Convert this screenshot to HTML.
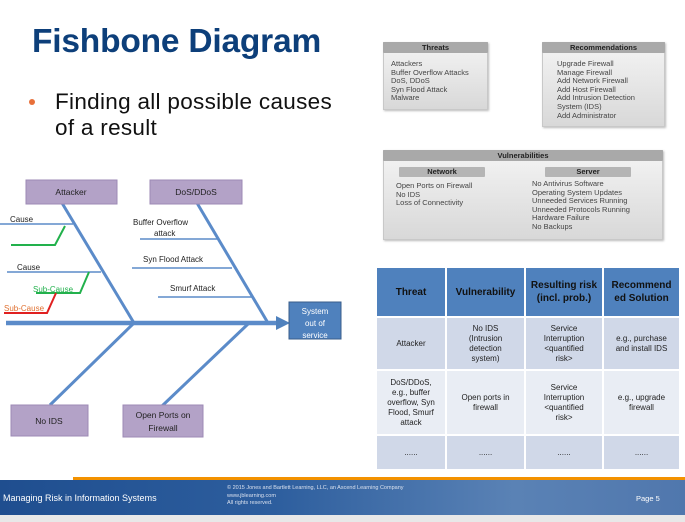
<!DOCTYPE html>
<html><head><meta charset="utf-8"><style>
*{margin:0;padding:0;box-sizing:border-box}
body{width:685px;height:522px;position:relative;background:#fff;font-family:"Liberation Sans",sans-serif;overflow:hidden}
.a{position:absolute}
.gb{position:absolute;background:linear-gradient(#f4f4f4,#d8d8d8);border:1px solid #c8c8c8;box-shadow:1px 1px 2px #bbb;font-size:7.5px;color:#444;line-height:8.6px}
.gh{position:absolute;background:#a9a9a9;color:#222;font-weight:bold;font-size:7.5px;text-align:center;line-height:11px;border-radius:1px}
table{position:absolute;left:375px;top:266px;border-collapse:separate;border-spacing:2px;font-family:"Liberation Sans",sans-serif;table-layout:fixed}
td{font-size:8px;text-align:center;color:#222;line-height:10px;padding:0}
th{background:#4f81bd;color:#111;font-size:10px;font-weight:bold;line-height:13px;padding:0 3px}
</style></head><body>
<div class="a" style="left:32px;top:23px;font-size:33.5px;font-weight:bold;color:#0d3f7a;letter-spacing:-0.2px">Fishbone Diagram</div>
<div class="a" style="left:29px;top:99px;width:6px;height:6px;border-radius:3px;background:#e8703a"></div>
<div class="a" style="left:55px;top:89px;font-size:22.5px;line-height:26px;color:#111;letter-spacing:0.3px">Finding all possible causes<br>of a result</div>

<div class="gb" style="left:383px;top:42px;width:105px;height:68px;padding:17px 0 0 7px">Attackers<br>Buffer Overflow Attacks<br>DoS, DDoS<br>Syn Flood Attack<br>Malware</div>
<div class="gh" style="left:383px;top:42px;width:105px">Threats</div>
<div class="gb" style="left:542px;top:42px;width:123px;height:85px;padding:17px 0 0 14px">Upgrade Firewall<br>Manage Firewall<br>Add Network Firewall<br>Add Host Firewall<br>Add Intrusion Detection<br>System (IDS)<br>Add Administrator</div>
<div class="gh" style="left:542px;top:42px;width:123px">Recommendations</div>
<div class="gb" style="left:383px;top:150px;width:280px;height:90px"></div>
<div class="gh" style="left:383px;top:150px;width:280px">Vulnerabilities</div>
<div class="gh" style="left:399px;top:167px;width:86px;height:10px;line-height:10px;background:#b5b5b5">Network</div>
<div class="gh" style="left:545px;top:167px;width:86px;height:10px;line-height:10px;background:#b5b5b5">Server</div>
<div class="a" style="left:396px;top:182px;font-size:7.5px;line-height:8.6px;color:#444">Open Ports on Firewall<br>No IDS<br>Loss of Connectivity</div>
<div class="a" style="left:532px;top:180px;font-size:7.5px;line-height:8.6px;color:#444">No Antivirus Software<br>Operating System Updates<br>Unneeded Services Running<br>Unneeded Protocols Running<br>Hardware Failure<br>No Backups</div>

<svg class="a" style="left:0;top:0" width="370" height="450">
<g stroke="#5b8bc9" stroke-width="1.5" fill="none">
<line x1="62" y1="203" x2="134" y2="323" stroke-width="3"/>
<line x1="197" y1="203" x2="268" y2="323" stroke-width="3"/>
<line x1="134" y1="323" x2="50" y2="405" stroke-width="3"/>
<line x1="248" y1="324" x2="162" y2="406" stroke-width="3"/>
<line x1="6" y1="323" x2="280" y2="323" stroke-width="4.5"/>
<line x1="0" y1="224" x2="73" y2="224"/>
<line x1="7" y1="272" x2="101" y2="272"/>
<line x1="140" y1="239" x2="217" y2="239"/>
<line x1="132" y1="268" x2="232" y2="268"/>
<line x1="158" y1="297" x2="252" y2="297"/>
</g>
<polygon points="276,316 290,323 276,330" fill="#4f81bd"/>
<g fill="none" stroke-width="2">
<polyline points="65,226 55,245 11,245" stroke="#22b14c"/>
<polyline points="89,272 80,293 36,293" stroke="#22b14c"/>
<polyline points="56,293 47,313 4,313" stroke="#e02020"/>
</g>
<g font-family="Liberation Sans,sans-serif" font-size="8" fill="#222">
<text x="10" y="222">Cause</text>
<text x="17" y="270">Cause</text>
<text x="33" y="292" fill="#22b14c">Sub-Cause</text>
<text x="4" y="311" fill="#e07030">Sub-Cause</text>
<text x="133" y="225">Buffer Overflow</text>
<text x="154" y="236">attack</text>
<text x="143" y="262">Syn Flood Attack</text>
<text x="170" y="291">Smurf Attack</text>
</g>
<g fill="#b3a2c7" stroke="#9c8ab5" stroke-width="1">
<rect x="26" y="180" width="91" height="24"/>
<rect x="150" y="180" width="92" height="24"/>
<rect x="11" y="405" width="77" height="31"/>
<rect x="123" y="405" width="80" height="32"/>
</g>
<rect x="289" y="302" width="52" height="37" fill="#4f81bd" stroke="#385d8a"/>
<g font-family="Liberation Sans,sans-serif" font-size="8.5" fill="#222" text-anchor="middle">
<text x="71" y="195">Attacker</text>
<text x="196" y="195">DoS/DDoS</text>
<text x="49" y="424">No IDS</text>
<text x="163" y="418">Open Ports on</text>
<text x="163" y="431">Firewall</text>
<text x="315" y="314" fill="#fff" font-size="8">System</text>
<text x="315" y="326" fill="#fff" font-size="8">out of</text>
<text x="315" y="338" fill="#fff" font-size="8">service</text>
</g>
</svg>

<table>
<tr style="height:48px"><th style="width:68px">Threat</th><th style="width:77px">Vulnerability</th><th style="width:76px">Resulting risk (incl. prob.)</th><th style="width:75px">Recommend ed Solution</th></tr>
<tr style="height:51px"><td style="background:#d0d8e8">Attacker</td><td style="background:#d0d8e8">No IDS<br>(Intrusion<br>detection<br>system)</td><td style="background:#d0d8e8">Service<br>Interruption<br>&lt;quantified<br>risk&gt;</td><td style="background:#d0d8e8">e.g., purchase<br>and install IDS</td></tr>
<tr style="height:63px"><td style="background:#e9edf4">DoS/DDoS,<br>e.g., buffer<br>overflow, Syn<br>Flood, Smurf<br>attack</td><td style="background:#e9edf4">Open ports in<br>firewall</td><td style="background:#e9edf4">Service<br>Interruption<br>&lt;quantified<br>risk&gt;</td><td style="background:#e9edf4">e.g., upgrade<br>firewall</td></tr>
<tr style="height:33px"><td style="background:#d0d8e8">......</td><td style="background:#d0d8e8">......</td><td style="background:#d0d8e8">......</td><td style="background:#d0d8e8">......</td></tr>
</table>

<div class="a" style="left:73px;top:477px;width:612px;height:4px;background:#f39200"></div>
<div class="a" style="left:0;top:480px;width:685px;height:35px;background:linear-gradient(90deg,#1f4e8f 0%,#2d5e9e 40%,#5a82b5 75%,#5077ad 100%)"></div>
<div class="a" style="left:0;top:515px;width:685px;height:7px;background:#e8e8e8"></div>
<div class="a" style="left:3px;top:493px;font-size:9px;color:#fff">Managing Risk in Information Systems</div>
<div class="a" style="left:227px;top:485px;font-size:5.5px;line-height:7.5px;color:#d8e0ee">© 2015 Jones and Bartlett Learning, LLC, an Ascend Learning Company<br>www.jblearning.com<br>All rights reserved.</div>
<div class="a" style="left:636px;top:494px;font-size:7.5px;color:#fff">Page 5</div>
</body></html>
